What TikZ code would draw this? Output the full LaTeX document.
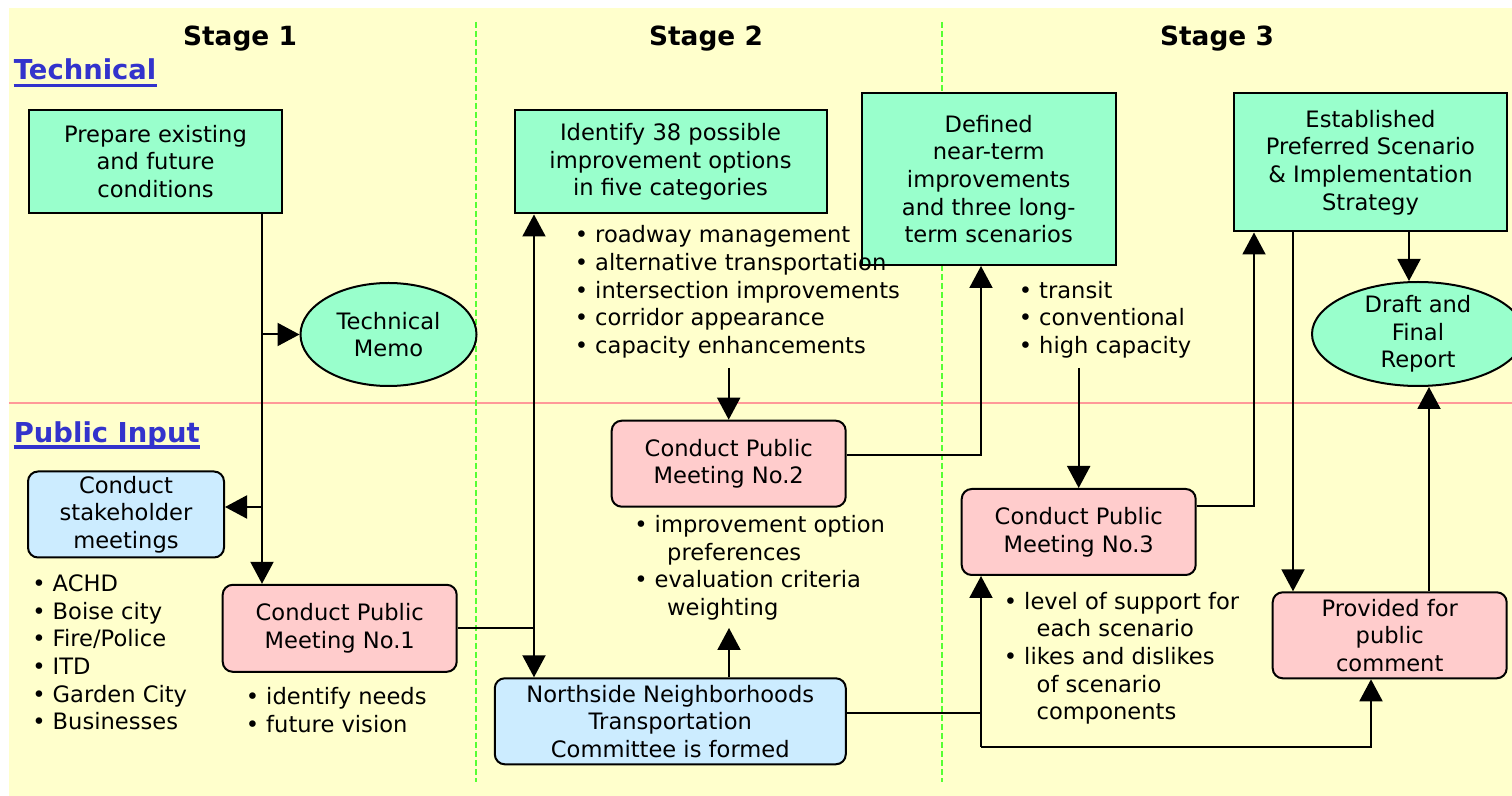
\documentclass[tikz,border=0pt]{standalone}
\usepackage{fontspec}
\setmainfont{DejaVu Sans}
\usepackage{tikz}
\usetikzlibrary{arrows.meta,positioning,calc,shapes.geometric}
\definecolor{hatter}{HTML}{FFFFCC}
\definecolor{menta}{HTML}{99FFCC}
\definecolor{rozsa}{HTML}{FFCCCC}
\definecolor{egkek}{HTML}{CCECFF}
\definecolor{savkek}{HTML}{3333CC}
\definecolor{hatar}{HTML}{FF9999}
\definecolor{szakasz}{HTML}{55FF33}
\tikzset{
  szoveg/.style={font=\fontsize{11.3}{13.8}\selectfont,align=center,inner sep=0pt},
  tdob/.style={szoveg,draw,line width=1pt,fill=menta},
  tovl/.style={szoveg,ellipse,draw,line width=1pt,fill=menta,inner ysep=-1.5pt},
  pdob/.style={szoveg,draw,line width=1pt,rounded corners=5pt,fill=rozsa},
  kdob/.style={szoveg,draw,line width=1pt,rounded corners=5pt,fill=egkek},
  lista/.style={font=\fontsize{11.3}{13.8}\selectfont,inner sep=0pt,anchor=base west},
  cim/.style={font=\fontsize{13.2}{16}\selectfont\bfseries,inner sep=0pt,anchor=base},
  sav/.style={font=\fontsize{13.7}{16}\selectfont\bfseries,text=savkek,inner sep=0pt,anchor=base west},
  alav/.style={savkek,line width=1.6pt},
  vonal/.style={line width=1pt},
  nyl/.style={vonal,-{Triangle[length=11pt,width=11.5pt]}},
  nyl2/.style={vonal,{Triangle[length=11pt,width=11.5pt]}-{Triangle[length=11pt,width=11.5pt]}},
}
\newcommand{\bul}{•\hspace{3.5pt}}
\newcommand{\foly}{\hspace*{\dimexpr 6.6pt+3.5pt+6.3pt\relax}}

\begin{document}
\begin{tikzpicture}[x=0.5pt,y=-0.5pt]
  \useasboundingbox (0,0) rectangle (1512,796);
  \fill[hatter] (9,8) rectangle (1512,796);
  \draw[hatar,line width=1.1pt] (9,403) -- (1512,403);
  \draw[szakasz,line width=1.1pt,dash pattern=on 3pt off 1.5pt] (476,22) -- (476,782);
  \draw[szakasz,line width=1.1pt,dash pattern=on 3pt off 1.5pt] (942,22) -- (942,782);

  % headings
  \node[cim] (st1) at (240,45.5) {Stage 1};
  \node[cim] (st2) at (706,45.5) {Stage 2};
  \node[cim] (st3) at (1217,45.5) {Stage 3};
  \node[sav] (tech) at (13.5,80) {Technical};
  \draw[alav] ([yshift=-2.7pt]tech.base west) -- ([yshift=-2.7pt]tech.base east);
  \node[sav] (pub) at (13.5,442.3) {Public Input};
  \draw[alav] ([yshift=-2.4pt]pub.base west) -- ([yshift=-2.4pt]pub.base east);

  % technical lane
  \node[tdob,minimum width=126.5pt,minimum height=51.5pt] (prep) at (155.5,161.5)
    {Prepare existing\\and future\\conditions};
  \node[tovl,minimum width=88pt,minimum height=51.5pt] (memo) at (388.5,334.5)
    {Technical\\Memo};
  \node[tdob,minimum width=156pt,minimum height=51.5pt] (ident) at (670.5,162)
    {Identify 38 possible\\improvement options\\in five categories};
  \node[tdob,minimum width=127pt,minimum height=86pt] (defn) at (988.7,179)
    {Defined\\near-term\\improvements\\and three long-\\term scenarios};
  \node[tdob,minimum width=136.5pt,minimum height=69pt] (estb) at (1370.5,162.5)
    {Established\\Preferred Scenario\\\& Implementation\\Strategy};
  \node[tovl,minimum width=106pt,minimum height=52pt] (draft) at (1418,334)
    {Draft and\\Final\\Report};

  % public input lane
  \node[kdob,minimum width=98pt,minimum height=43pt] (stake) at (126,514.5)
    {Conduct\\stakeholder\\meetings};
  \node[pdob,minimum width=117pt,minimum height=43.5pt] (mtg1) at (339.7,628.3)
    {Conduct Public\\Meeting No.1};
  \node[pdob,minimum width=117pt,minimum height=43pt] (mtg2) at (728.7,463.7)
    {Conduct Public\\Meeting No.2};
  \node[kdob,minimum width=175.5pt,minimum height=43pt] (nntc) at (670.3,721.3)
    {Northside Neighborhoods\\Transportation\\Committee is formed};
  \node[pdob,minimum width=117pt,minimum height=43pt] (mtg3) at (1078.7,532)
    {Conduct Public\\Meeting No.3};
  \node[pdob,minimum width=117pt,minimum height=43pt] (prov) at (1389.7,635.3)
    {Provided for\\public\\comment};

  % bullet lists
  \node[lista] (lstake) at (32,591.7) {\begin{tabular}[t]{@{}l@{}}
    \bul ACHD\\ \bul Boise city\\ \bul Fire/Police\\ \bul ITD\\ \bul Garden City\\ \bul Businesses\end{tabular}};
  \node[lista] (lmtg1) at (245.5,705) {\begin{tabular}[t]{@{}l@{}}
    \bul identify needs\\ \bul future vision\end{tabular}};
  \node[lista] (lident) at (574.5,243) {\begin{tabular}[t]{@{}l@{}}
    \bul roadway management\\ \bul alternative transportation\\ \bul intersection improvements\\
    \bul corridor appearance\\ \bul capacity enhancements\end{tabular}};
  \node[lista] (lmtg2) at (634,532.7) {\begin{tabular}[t]{@{}l@{}}
    \bul improvement option\\ \foly preferences\\ \bul evaluation criteria\\ \foly weighting\end{tabular}};
  \node[lista] (ldefn) at (1018.5,298.3) {\begin{tabular}[t]{@{}l@{}}
    \bul transit\\ \bul conventional\\ \bul high capacity\end{tabular}};
  \node[lista] (lmtg3) at (1003.5,609.3) {\begin{tabular}[t]{@{}l@{}}
    \bul level of support for\\ \foly each scenario\\ \bul likes and dislikes\\ \foly of scenario\\ \foly components\end{tabular}};

  % junctions
  \coordinate (t1) at (262,334.5);
  \coordinate (t2) at (262,507);
  \coordinate (t3) at (534,628);
  \coordinate (t4) at (729,368);
  \coordinate (t5) at (729,628);
  \coordinate (t6) at (981,455);
  \coordinate (t7) at (1078,368);
  \coordinate (t8) at (1254,506);
  \coordinate (t9) at (1293,400);
  \coordinate (t10) at (1409,250);
  \coordinate (t11) at (1429,500);
  \coordinate (t12) at (981,713);
  \coordinate (t13) at (981,747);
  \coordinate (t14) at (1371,747);

  % connectors
  \draw[nyl] (prep.south -| t1) -- (mtg1.north -| t1);
  \draw[nyl] (t1) -- (memo.west);
  \draw[nyl] (t2) -- (stake.east |- t2);
  \draw[nyl2] (ident.south -| t3) -- (nntc.north -| t3);
  \draw[vonal] (mtg1.east |- t3) -- (t3);
  \draw[nyl] (mtg2.north |- t4) -- (mtg2.north);
  \draw[nyl] (nntc.north -| t5) -- (t5);
  \draw[nyl] (mtg2.east |- t6) -- (t6) -- (defn.south -| t6);
  \draw[nyl] (mtg3.north |- t7) -- (mtg3.north);
  \draw[nyl] (mtg3.east |- t8) -- (t8) -- (estb.south -| t8);
  \draw[nyl] (estb.south -| t9) -- (prov.north -| t9);
  \draw[nyl] (estb.south -| t10) -- (draft.north -| t10);
  \draw[nyl] (prov.north -| t11) -- (draft.south -| t11);
  \draw[vonal] (nntc.east |- t12) -- (t12);
  \draw[nyl] (t13) -- (mtg3.south -| t13);
  \draw[nyl] (t13) -- (t14) -- (prov.south -| t14);
\end{tikzpicture}
\end{document}
